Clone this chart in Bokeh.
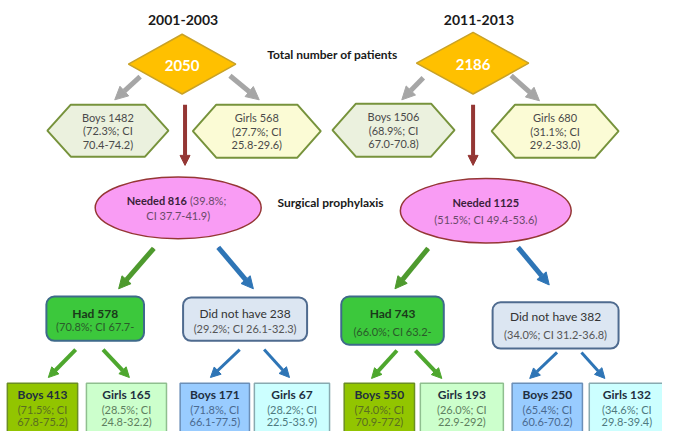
from bokeh.plotting import figure
from bokeh.models import Range1d, Arrow, NormalHead
from bokeh.core.properties import value
from bokeh.embed import file_html
from bokeh.resources import INLINE

# ---- data ----
periods = ["2001-2003", "2011-2013"]
totals = ["2050", "2186"]
boys_lines = [["Boys 1482", "(72.3%; CI", "70.4-74.2)"], ["Boys 1506", "(68.9%; CI", "67.0-70.8)"]]
girls_lines = [["Girls 568", "(27.7%; CI", "25.8-29.6)"], ["Girls 680", "(31.1%; CI", "29.2-33.0)"]]
needed_bold = ["Needed 816", "Needed 1125"]
needed_rest = [["(39.8%;", "CI 37.7-41.9)"], ["", "(51.5%; CI 49.4-53.6)"]]
had_lines = [["Had 578", "(70.8%; CI 67.7-"], ["Had 743", "(66.0%; CI 63.2-"]]
not_lines = [["Did not have 238", "(29.2%; CI 26.1-32.3)"], ["Did not have 382", "(34.0%; CI 31.2-36.8)"]]
leaf_titles = ["Boys 413", "Girls 165", "Boys 171", "Girls 67", "Boys 550", "Girls 193", "Boys 250", "Girls 132"]
leaf_pct = ["(71.5%; CI", "(28.5%; CI", "(71.8%, CI", "(28.2%; CI", "(74.0%; CI", "(26.0%; CI", "(65.4%; CI", "(34.6%; CI"]
leaf_ci = ["67.8-75.2)", "24.8-32.2)", "66.1-77.5)", "22.5-33.9)", "70.9-772)", "22.9-292)", "60.6-70.2)", "29.8-39.4)"]
side_labels = ["Total number of patients", "Surgical prophylaxis"]

# ---- layout ----
FONT = value("Lato")
p = figure(width=662, height=431, output_backend="svg", toolbar_location=None,
           x_range=Range1d(0, 678), y_range=Range1d(447, 0), min_border=0)
p.axis.visible = False
p.grid.visible = False
p.outline_line_color = None

def txt(x, y, s, size=11, color="#404040", bold=False, align="center"):
    p.text(x=[x], y=[y], text=[s], text_font=FONT, text_font_size=f"{size}px",
           text_font_style="bold" if bold else "normal", text_color=color,
           text_align=align, text_baseline="middle")

def arrow(x0, y0, x1, y1, color, w=4, head=12, inner=None):
    p.add_layout(Arrow(x_start=x0, y_start=y0, x_end=x1, y_end=y1, line_color=color,
                       line_width=w, end=NormalHead(size=head, fill_color=color, line_color=color)))
    if inner:
        f = 0.8
        p.line([x0, x0 + (x1 - x0) * f], [y0, y0 + (y1 - y0) * f], line_color=inner, line_width=2)

cols = [
    dict(title_x=187, dx=186, dl=131, dr=241, dt=35, db=97,
         boys=(48, 172, 108, 162), girls=(197, 328, 108, 163),
         garrows=[(143, 79, 117, 103), (235, 78, 265, 103)], red_x=189,
         ell=(182, 215, 170, 64), nb_x=191, ell_lines=(207, 223),
         carrows=[((157, 257, 121, 299), "#4e9a2e", "#943634"), ((223, 256, 259, 299), "#2e75b6", "#7030a0")],
         had=(47, 147, 307, 353), had_y=(325, 338), nothave=(187, 314, 308, 353), not_y=(325, 340),
         hg=[(77, 362, 49, 391), (105, 362, 132, 391)], hb=[(245, 362, 215, 391), (270, 362, 296, 391)],
         leaves=[(7, 79), (88, 170), (184, 255), (260, 337)]),
    dict(title_x=490, dx=484, dl=426, dr=541, dt=33, db=97,
         boys=(340, 465, 107, 162), girls=(503, 633, 108, 163),
         garrows=[(433, 80, 411, 103), (523, 78, 552, 104)], red_x=484,
         ell=(497, 218, 175, 67), nb_x=None, ell_lines=(210, 227),
         carrows=[((438, 257, 404, 299), "#4e9a2e", "#943634"), ((530, 256, 562, 295), "#2e75b6", None)],
         had=(349, 454, 307, 357), had_y=(325, 343), nothave=(504, 633, 313, 361), not_y=(328, 346),
         hg=[(406, 363, 380, 392), (425, 363, 452, 392)], hb=[(570, 365, 542, 392), (595, 365, 619, 392)],
         leaves=[(352, 424), (430, 515), (524, 596), (603, 680)]),
]

leaf_fill = ["#92c500", "#ccffcc", "#99ccff", "#ccffff"]
leaf_line = ["#6b8e23", "#8fbf8f", "#6b8fb8", "#88aab0"]
leaf_sub = ["#5a6e20", "#5f8060", "#4a6a90", "#4f7a80"]

for i, c in enumerate(cols):
    txt(c["title_x"], 20, periods[i], size=14, color="#1a1a1a", bold=True)
    cy = (c["dt"] + c["db"]) / 2
    p.patch([c["dl"], c["dx"], c["dr"], c["dx"]], [cy, c["dt"], cy, c["db"]],
            fill_color="#ffc000", line_color="#c9a227", line_width=1.5)
    txt(c["dx"], cy + 1, totals[i], size=15, color="white", bold=True)
    for (x0, y0, x1, y1) in c["garrows"]:
        arrow(x0, y0, x1, y1, "#a6a6a6", w=5, head=13)
    arrow(c["red_x"], 108, c["red_x"], 171, "#943634", w=4, head=10)
    for (l, r, t, b), fill, lines in [(c["boys"], "#ebf1de", boys_lines[i]), (c["girls"], "#fbfbd5", girls_lines[i])]:
        hy = (t + b) / 2
        d = 24
        p.patch([l, l + d, r - d, r, r - d, l + d], [hy, t, t, hy, b, b],
                fill_color=fill, line_color="#77933c", line_width=2)
        xm = (l + r) / 2
        for k, s in enumerate(lines):
            txt(xm, hy - 14 + 14 * k, s, size=11, color="#4a4a4a")
    ex, ey, ew, eh = c["ell"]
    p.ellipse(x=[ex], y=[ey], width=[ew], height=[eh], fill_color="#f99cf4",
              line_color="#953735", line_width=1.5)
    if c["nb_x"]:
        txt(c["nb_x"], c["ell_lines"][0], needed_bold[i], size=11, color="#3b1f3b", bold=True, align="right")
        txt(c["nb_x"] + 3, c["ell_lines"][0], needed_rest[i][0], size=11, color="#6a4a6a", align="left")
    else:
        txt(ex, c["ell_lines"][0], needed_bold[i], size=11, color="#3b1f3b", bold=True)
    txt(ex, c["ell_lines"][1], needed_rest[i][1], size=11, color="#6a4a6a")
    for (x0, y0, x1, y1), col, inner in c["carrows"]:
        arrow(x0, y0, x1, y1, col, w=5, head=12, inner=inner)
    l, r, t, b = c["had"]
    p.quad(left=[l], right=[r], top=[t], bottom=[b], fill_color="#3cc83c", line_color="#3e6a8a",
           line_width=2, border_radius=8)
    txt((l + r) / 2, c["had_y"][0], had_lines[i][0], size=12, color="#1a3a1a", bold=True)
    txt((l + r) / 2, c["had_y"][1], had_lines[i][1], size=11, color="#2a5a2a")
    l, r, t, b = c["nothave"]
    p.quad(left=[l], right=[r], top=[t], bottom=[b], fill_color="#dce6f2", line_color="#4f6b8f",
           line_width=2, border_radius=8)
    txt((l + r) / 2, c["not_y"][0], not_lines[i][0], size=12, color="#333333")
    txt((l + r) / 2, c["not_y"][1], not_lines[i][1], size=11, color="#555555")
    for (x0, y0, x1, y1) in c["hg"]:
        arrow(x0, y0, x1, y1, "#4ea72e", w=4, head=10)
    for (x0, y0, x1, y1) in c["hb"]:
        arrow(x0, y0, x1, y1, "#2e75b6", w=3, head=10)
    for j, (l, r) in enumerate(c["leaves"]):
        k = i * 4 + j
        p.quad(left=[l], right=[r], top=[397], bottom=[470], fill_color=leaf_fill[j],
               line_color=leaf_line[j], line_width=1.5)
        xm = (l + r) / 2
        txt(xm, 409, leaf_titles[k], size=12, color="#1f2f3f", bold=True)
        txt(xm, 424, leaf_pct[k], size=11, color=leaf_sub[j])
        txt(xm, 437, leaf_ci[k], size=11, color=leaf_sub[j])

txt(340, 56, side_labels[0], size=12, color="#1a1a1a", bold=True)
txt(338, 209, side_labels[1], size=12, color="#1a1a1a", bold=True)

open("out.html", "w").write(file_html(p, INLINE))
